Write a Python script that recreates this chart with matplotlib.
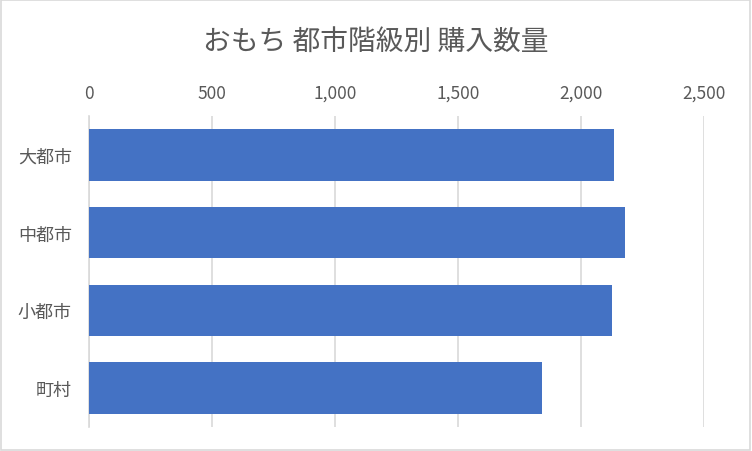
import matplotlib.pyplot as plt
import matplotlib.patches as patches
from matplotlib.ticker import FuncFormatter

plt.rcParams['font.family'] = ['Noto Sans CJK JP', 'DejaVu Sans']

# Data
categories = ['大都市', '中都市', '小都市', '町村']
values = [2134, 2179, 2126, 1842]
title_text = 'おもち 都市階級別 購入数量'

TEXT = '#595959'
GRID = '#d9d9d9'
BAR = '#4472C4'

fig = plt.figure(figsize=(7.52, 4.52), dpi=100)
ax = fig.add_axes([0.1177, 0.0531, 0.8185, 0.6881])

y = list(range(len(categories)))
ax.barh(y, values, height=0.665, color=BAR, zorder=3)
ax.set_yticks(y)
ax.set_yticklabels(categories)
ax.set_ylim(len(categories) - 0.5, -0.5)
ax.set_xlim(0, 2500)
ax.set_xticks(range(0, 2501, 500))
ax.xaxis.set_major_formatter(FuncFormatter(lambda v, p: f'{int(v):,}'))
ax.xaxis.tick_top()

ax.grid(axis='x', color=GRID, linewidth=1.2, zorder=0)
for s in ['top', 'right', 'bottom']:
    ax.spines[s].set_visible(False)
ax.spines['left'].set_color(GRID)
ax.spines['left'].set_linewidth(1.2)
ax.tick_params(axis='both', length=0, colors=TEXT)
ax.tick_params(axis='x', pad=10, labelsize=12.5)
ax.tick_params(axis='y', pad=12, labelsize=13)

fig.text(0.5, 0.908, title_text, ha='center', va='center', fontsize=20, color=TEXT)

# outer chart border
fig.patches.append(patches.Rectangle((0.001, 0.002), 0.997, 0.995, transform=fig.transFigure,
                                     fill=False, edgecolor=GRID, linewidth=1.2))

fig.savefig('out.png', dpi=100)
